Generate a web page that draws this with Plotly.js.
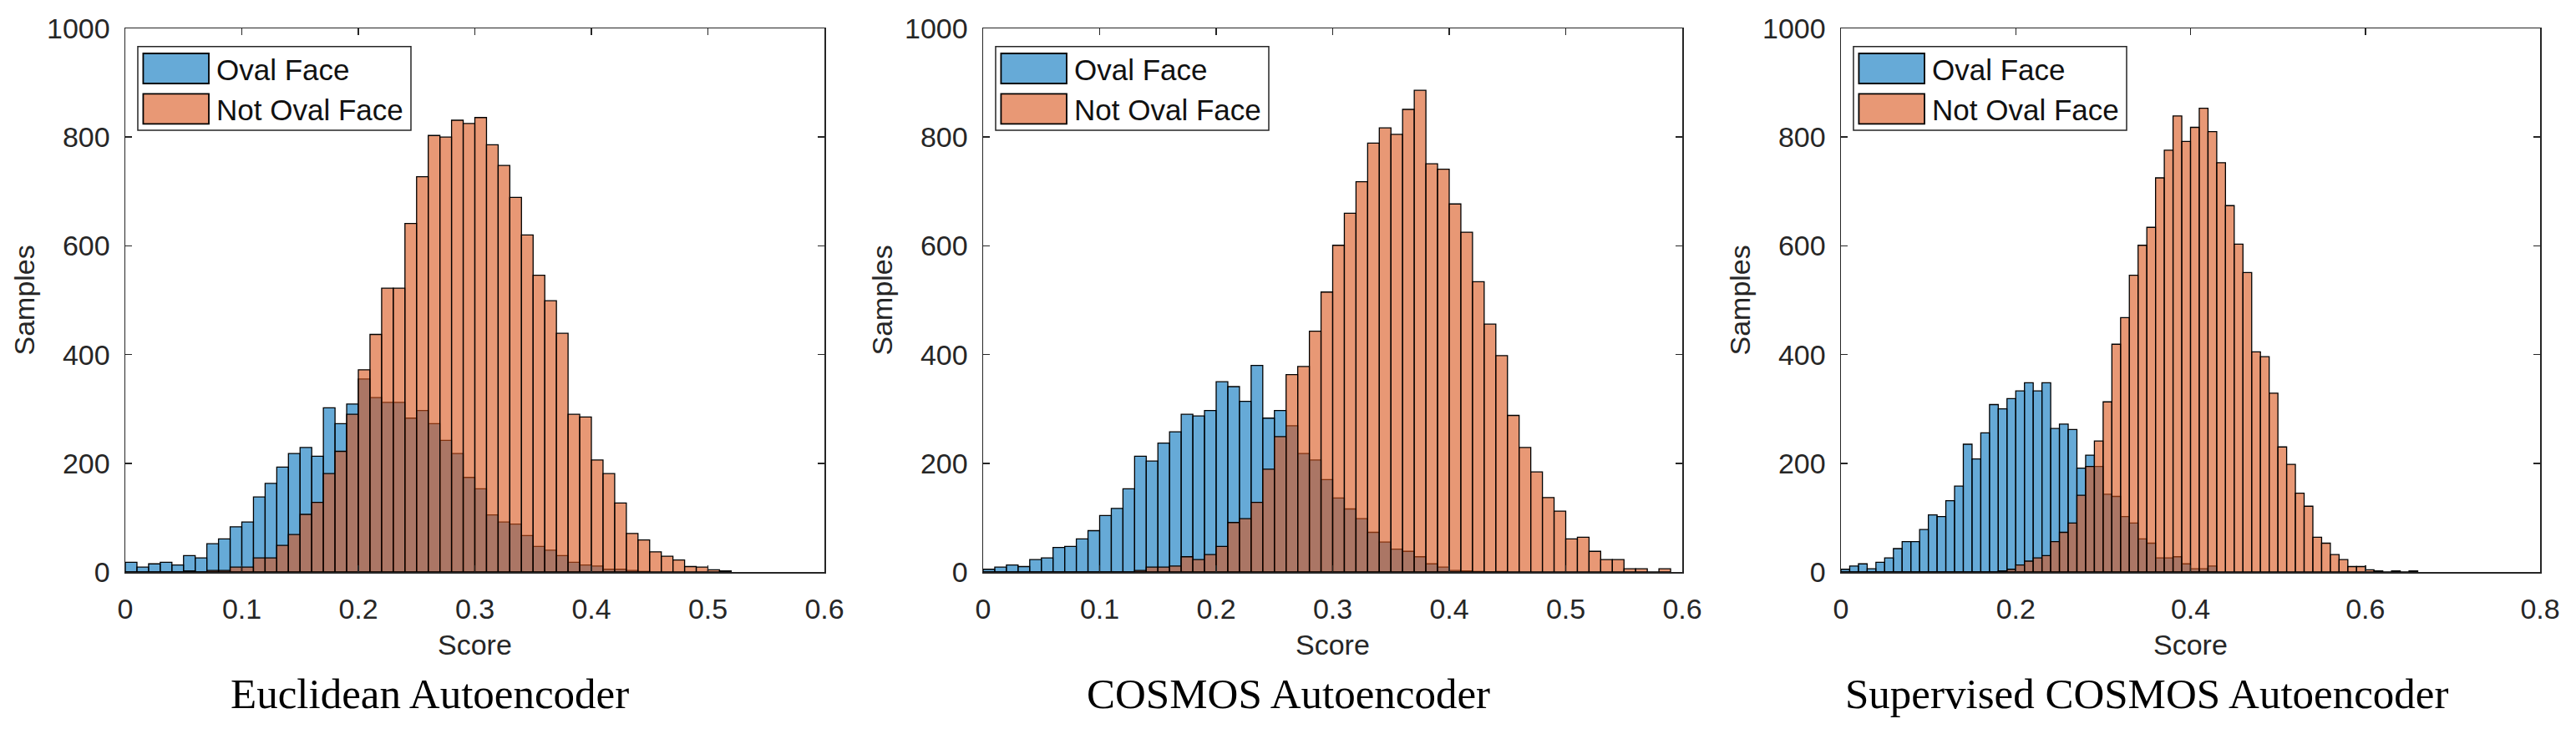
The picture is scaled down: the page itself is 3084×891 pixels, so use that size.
<!DOCTYPE html>
<html>
<head>
<meta charset="utf-8">
<script src="https://cdn.plot.ly/plotly-3.0.1.min.js"></script>
<style>
  html, body { margin: 0; padding: 0; background: #fff; }
  #chart { width: 3084px; height: 891px; }
</style>
</head>
<body>
<div id="chart"></div>
<script>
// histogram bins: 0.01 wide, starting at 0
var binStart = 0;
var binWidth = 0.01;

var panelTitles = ['Euclidean Autoencoder', 'COSMOS Autoencoder', 'Supervised COSMOS Autoencoder'];
var seriesNames = ['Oval Face', 'Not Oval Face'];
var xMax = [0.6, 0.6, 0.8];
var xTicks = [
    [0, 0.1, 0.2, 0.3, 0.4, 0.5, 0.6],
    [0, 0.1, 0.2, 0.3, 0.4, 0.5, 0.6],
    [0, 0.2, 0.4, 0.6, 0.8]
];
var yTicks = [0, 200, 400, 600, 800, 1000];

// counts per bin (bin 0 = 0.00-0.01, bin 1 = 0.01-0.02, ...)
var ovalEuclidean = [18, 9, 15, 18, 13, 30, 26, 52, 61, 83,
    92, 138, 163, 193, 218, 229, 213, 302, 273, 309,
    355, 321, 312, 312, 283, 297, 273, 242, 218, 174,
    153, 105, 92, 88, 67, 47, 40, 30, 18, 13,
    11, 5, 5, 3, 1];
var notOvalEuclidean = [0, 0, 0, 0, 0, 2, 0, 3, 3, 9,
    9, 26, 26, 49, 69, 106, 128, 181, 222, 290,
    372, 437, 522, 522, 641, 727, 803, 800, 831, 825,
    836, 786, 748, 689, 620, 546, 499, 439, 290, 285,
    206, 181, 127, 71, 59, 37, 29, 22, 10, 9,
    4, 2];

var ovalCosmos = [5, 9, 13, 10, 23, 26, 45, 47, 61, 76,
    104, 117, 153, 213, 204, 237, 258, 290, 287, 297,
    350, 341, 314, 380, 283, 297, 269, 218, 206, 170,
    136, 116, 98, 73, 55, 42, 38, 28, 15, 9,
    3, 2, 1, 0, 1];
var notOvalCosmos = [0, 0, 0, 0, 0, 0, 0, 0, 0, 0,
    0, 0, 0, 3, 9, 9, 11, 28, 23, 32,
    47, 91, 98, 128, 189, 249, 363, 378, 443, 515,
    601, 660, 718, 789, 817, 805, 851, 886, 751, 741,
    677, 625, 534, 456, 398, 288, 229, 184, 137, 112,
    61, 64, 38, 23, 23, 6, 6, 0, 6];

var ovalSupervised = [5, 11, 15, 6, 18, 26, 43, 56, 56, 78,
    105, 102, 131, 158, 235, 208, 256, 308, 300, 319,
    333, 348, 333, 348, 264, 272, 262, 191, 215, 194,
    143, 139, 102, 90, 61, 53, 26, 26, 28, 15,
    6, 6, 11];
var notOvalSupervised = [0, 0, 0, 0, 0, 0, 0, 0, 0, 0,
    0, 0, 0, 0, 0, 0, 0, 0, 2, 5,
    13, 20, 26, 30, 56, 73, 90, 141, 194, 241,
    313, 419, 468, 546, 601, 634, 725, 776, 839, 792,
    818, 853, 810, 753, 674, 603, 551, 405, 396, 329,
    230, 198, 145, 121, 64, 53, 32, 23, 10, 10,
    4, 2, 0, 2, 0, 2];

var ovalData = [ovalEuclidean, ovalCosmos, ovalSupervised];
var notOvalData = [notOvalEuclidean, notOvalCosmos, notOvalSupervised];

// MATLAB default colours, FaceAlpha 0.6
var fillColors = ['rgba(0,114,189,0.6)', 'rgba(217,83,25,0.6)'];
var textColor = '#262626';
var fontSans = 'Liberation Sans, Arial, sans-serif';

function binCenters(n) {
    var xs = [];
    for (let i = 0; i < n; i++) {
        xs.push(binStart + binWidth * i + binWidth / 2);
    }
    return xs;
}

var xDomains = [[150 / 3084, 987 / 3084], [1177 / 3084, 2014 / 3084], [2204 / 3084, 3041 / 3084]];
var yDomain = [(891 - 685) / 891, (891 - 34) / 891];
var titleCenters = [514 / 3084, 1542 / 3084, 2570 / 3084];

var traces = [];
var shapes = [];
var annotations = [];
var layout = {
    width: 3084,
    height: 891,
    margin: {l: 0, r: 0, t: 0, b: 0},
    paper_bgcolor: '#ffffff',
    plot_bgcolor: '#ffffff',
    barmode: 'overlay',
    showlegend: false,
    font: {family: fontSans, size: 34, color: textColor}
};

for (let p = 0; p < 3; p++) {
    var suffix = p == 0 ? '' : String(p + 1);
    var allSeries = [ovalData[p], notOvalData[p]];
    for (let s = 0; s < 2; s++) {
        traces.push({
            type: 'bar',
            x: binCenters(allSeries[s].length),
            y: allSeries[s],
            width: binWidth,
            name: seriesNames[s],
            xaxis: 'x' + suffix,
            yaxis: 'y' + suffix,
            marker: {color: fillColors[s], line: {color: '#000000', width: 1.3}},
            hoverinfo: 'x+y'
        });
    }

    layout['xaxis' + suffix] = {
        domain: xDomains[p],
        anchor: 'y' + suffix,
        range: [0, xMax[p]],
        tickvals: xTicks[p],
        ticks: 'inside',
        ticklen: 8,
        tickwidth: 1.5,
        tickcolor: textColor,
        showline: true,
        linecolor: textColor,
        linewidth: 1.5,
        mirror: 'ticks',
        showgrid: false,
        zeroline: false,
        ticklabelstandoff: 14,
        tickfont: {family: fontSans, size: 34, color: textColor}
    };
    layout['yaxis' + suffix] = {
        domain: yDomain,
        anchor: 'x' + suffix,
        range: [0, 1000],
        tickvals: yTicks,
        ticks: 'inside',
        ticklen: 8,
        tickwidth: 1.5,
        tickcolor: textColor,
        showline: true,
        linecolor: textColor,
        linewidth: 1.5,
        mirror: 'ticks',
        showgrid: false,
        zeroline: false,
        ticklabelstandoff: 10,
        tickfont: {family: fontSans, size: 34, color: textColor}
    };

    var xd = 'x' + suffix + ' domain';
    var yd = 'y' + suffix + ' domain';

    // legend box drawn by hand so the swatches match the big MATLAB patches
    shapes.push({type: 'rect', xref: xd, yref: yd, x0: 0.0179, x1: 0.4086, y0: 0.8126, y1: 0.9667,
        fillcolor: '#ffffff', line: {color: textColor, width: 1.5}});
    var swatchY = [[0.8986, 0.9539], [0.8244, 0.8797]];
    var labelY = [0.9232, 0.8505];
    for (let s = 0; s < 2; s++) {
        shapes.push({type: 'rect', xref: xd, yref: yd, x0: 0.0256, x1: 0.1195,
            y0: swatchY[s][0], y1: swatchY[s][1],
            fillcolor: fillColors[s], line: {color: '#000000', width: 1.8}});
        annotations.push({xref: xd, yref: yd, x: 0.1283, y: labelY[s], xanchor: 'left', yanchor: 'middle',
            text: seriesNames[s], showarrow: false, font: {family: fontSans, size: 35, color: '#111111'}});
    }

    annotations.push({xref: xd, yref: 'paper', x: 0.5, y: (891 - 772) / 891, xanchor: 'center', yanchor: 'middle',
        text: 'Score', showarrow: false, font: {family: fontSans, size: 34, color: textColor}});
    annotations.push({xref: xd, yref: yd, x: -122 / 837, y: 0.5, xanchor: 'center', yanchor: 'middle',
        text: 'Samples', textangle: -90, showarrow: false, font: {family: fontSans, size: 34, color: textColor}});
    annotations.push({xref: 'paper', yref: 'paper', x: titleCenters[p], y: (891 - 831) / 891,
        xanchor: 'center', yanchor: 'middle', text: panelTitles[p], showarrow: false,
        font: {family: 'Liberation Serif, serif', size: 51, color: '#000000'}});
}

layout.shapes = shapes;
layout.annotations = annotations;

Plotly.newPlot('chart', traces, layout, {staticPlot: true});
</script>
</body>
</html>
